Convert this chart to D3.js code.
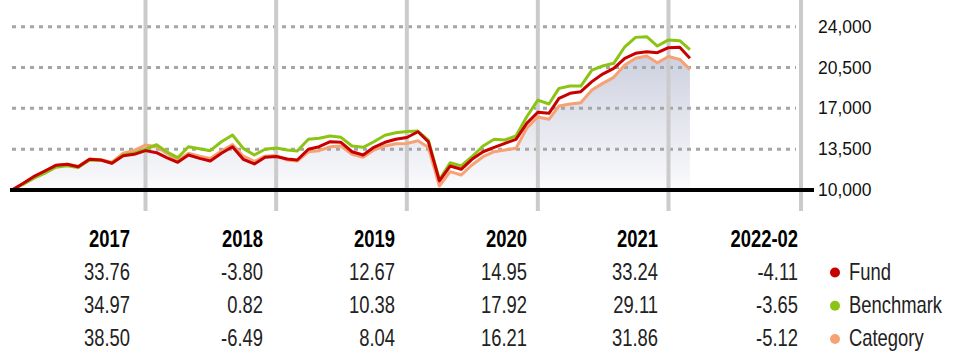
<!DOCTYPE html>
<html>
<head>
<meta charset="utf-8">
<script src="https://cdn.jsdelivr.net/npm/d3@7"></script>
<style>
  html, body { margin: 0; padding: 0; background: #fff; }
  svg { display: block; }
  .narrow { font-family: "Liberation Sans", Arial, sans-serif; }
</style>
</head>
<body>
<svg id="chart" width="953" height="358"></svg>
<script>
// ---------- DATA ----------
// Month-end growth of 10,000 (Dec 2016 .. Feb 2022)
const fund = [
  10000,
  10574, 11140, 11630, 12117, 12200, 11997, 12630, 12570, 12290, 12940, 13060, 13376,
  13200, 12770, 12370, 13000, 12715, 12485, 13145, 13710, 12630, 12230, 12800, 12868,
  12657, 12571, 13490, 13710, 14140, 14090, 13280, 13000, 13660, 14090, 14345, 14498,
  14996, 14140, 10780, 12057, 11774, 12630, 13280, 13660, 14000, 14345, 15716, 16666,
  16570, 17860, 18290, 18430, 19290, 19940, 20430, 21290, 21715, 21850, 21770, 22206,
  22230, 21293
];
const benchmark = [
  10000,
  10500, 11000, 11450, 11950, 12080, 11920, 12580, 12560, 12300, 13000, 13150, 13497,
  13880, 13280, 12770, 13710, 13540, 13370, 14140, 14710, 13570, 13000, 13490, 13608,
  13430, 13340, 14345, 14430, 14630, 14516, 13770, 13660, 14140, 14690, 14910, 15020,
  15050, 14285, 10880, 12340, 12057, 12854, 13770, 14345, 14285, 14630, 16280, 17712,
  17370, 18715, 18910, 18910, 20285, 20630, 20860, 22280, 23085, 23140, 22340, 22868,
  22800, 22033
];
const category = [
  10000,
  10560, 11120, 11620, 12110, 12210, 12010, 12650, 12600, 12380, 13150, 13400, 13850,
  13700, 13150, 12550, 13150, 12900, 12700, 13350, 13900, 12900, 12450, 12900, 12951,
  12571, 12485, 13280, 13370, 13710, 13770, 13060, 12800, 13430, 13770, 13970, 13993,
  14225, 13660, 10343, 11570, 11285, 12142, 12854, 13280, 13430, 13570, 15290, 16261,
  16060, 17200, 17370, 17480, 18570, 19140, 19660, 20710, 21290, 21480, 20910, 21442,
  21200, 20344
];
const yTicks = [10000, 13500, 17000, 20500, 24000];
const periods = ["2017", "2018", "2019", "2020", "2021", "2022-02"];
const fundReturns = ["33.76", "-3.80", "12.67", "14.95", "33.24", "-4.11"];
const benchmarkReturns = ["34.97", "0.82", "10.38", "17.92", "29.11", "-3.65"];
const categoryReturns = ["38.50", "-6.49", "8.04", "16.21", "31.86", "-5.12"];
const seriesNames = ["Fund", "Benchmark", "Category"];

// ---------- SETUP ----------
const colors = { Fund: "#c70000", Benchmark: "#8cc414", Category: "#f6a274" };
const svg = d3.select("#chart");
const NARROW = 0.8; // horizontal compression to mimic a narrow face

const dates = d3.utcMonth.range(new Date(Date.UTC(2017, 0, 1)), new Date(Date.UTC(2022, 3, 1)));

const x = d3.scaleUtc()
  .domain([new Date(Date.UTC(2017,0,1)), new Date(Date.UTC(2018,0,1)), new Date(Date.UTC(2022,0,1)), new Date(Date.UTC(2023,0,1))])
  .range([12, 145.5, 668.5, 801]);
const y = d3.scaleLinear().domain([10000, 24000]).range([190, 26.7]);

const defs = svg.append("defs");
const grad = defs.append("linearGradient").attr("id", "areaGrad")
  .attr("gradientUnits", "userSpaceOnUse").attr("x1", 0).attr("x2", 0).attr("y1", 30).attr("y2", 190);
grad.append("stop").attr("offset", "0%").attr("stop-color", "#c4c8d9");
grad.append("stop").attr("offset", "100%").attr("stop-color", "#fbfbfd");

const area = d3.area().x((d, i) => x(dates[i])).y0(y(10000)).y1(d => y(d));
svg.append("path").datum(category).attr("d", area).attr("fill", "url(#areaGrad)");

svg.append("g").selectAll("line").data(yTicks.filter(t => t > 10000)).join("line")
  .attr("x1", 12).attr("x2", 796)
  .attr("y1", d => y(d)).attr("y2", d => y(d))
  .attr("stroke", "#a5a5a5").attr("stroke-width", 3).attr("stroke-dasharray", "4,5");

const vLines = [2018, 2019, 2020, 2021, 2022, 2023].map(yr => new Date(Date.UTC(yr, 0, 1)));
svg.append("g").selectAll("line").data(vLines).join("line")
  .attr("x1", d => x(d)).attr("x2", d => x(d))
  .attr("y1", 0).attr("y2", 211)
  .attr("stroke", "#cbcbcb").attr("stroke-width", 4);

const line = d3.line().x((d, i) => x(dates[i])).y(d => y(d));
[["Category", category], ["Benchmark", benchmark], ["Fund", fund]].forEach(([name, arr]) => {
  svg.append("path").datum(arr).attr("d", line)
    .attr("fill", "none").attr("stroke", colors[name]).attr("stroke-width", 3)
    .attr("stroke-linejoin", "round");
});

svg.append("line").attr("x1", 10).attr("x2", 814).attr("y1", y(10000)).attr("y2", y(10000))
  .attr("stroke", "#000").attr("stroke-width", 4);

const yAxis = svg.append("g").attr("transform", "translate(812,0)")
  .call(d3.axisRight(y).tickValues(yTicks).tickFormat(d3.format(",")).tickSize(0).tickPadding(6));
yAxis.select(".domain").remove();
yAxis.selectAll("text").attr("font-family", "'Liberation Sans', Arial, sans-serif")
  .attr("font-size", 17.5).attr("fill", "#111");

// table
const colRight = [130, 263, 395, 527, 658, 798];
const rowsY = [246.7, 279.5, 312.7, 346];
const tbl = svg.append("g").attr("class", "narrow").attr("font-size", 23);
function narrowText(g, xPos, yPos, txt, anchor, weight, fill) {
  g.append("text")
    .attr("transform", `translate(${xPos},${yPos}) scale(${NARROW},1)`)
    .attr("text-anchor", anchor).attr("font-weight", weight).attr("fill", fill).text(txt);
}
periods.forEach((p, i) => narrowText(tbl, colRight[i], rowsY[0], p, "end", "bold", "#000"));
[fundReturns, benchmarkReturns, categoryReturns].forEach((arr, r) => {
  arr.forEach((v, i) => narrowText(tbl, colRight[i], rowsY[r + 1], v, "end", "normal", "#222"));
});

const leg = svg.append("g").attr("class", "narrow").attr("font-size", 23);
seriesNames.forEach((name, r) => {
  leg.append("circle").attr("cx", 835).attr("cy", rowsY[r + 1] - 7).attr("r", 5).attr("fill", colors[name]);
  narrowText(leg, 849, rowsY[r + 1], name, "start", "normal", "#222");
});
</script>
</body>
</html>
